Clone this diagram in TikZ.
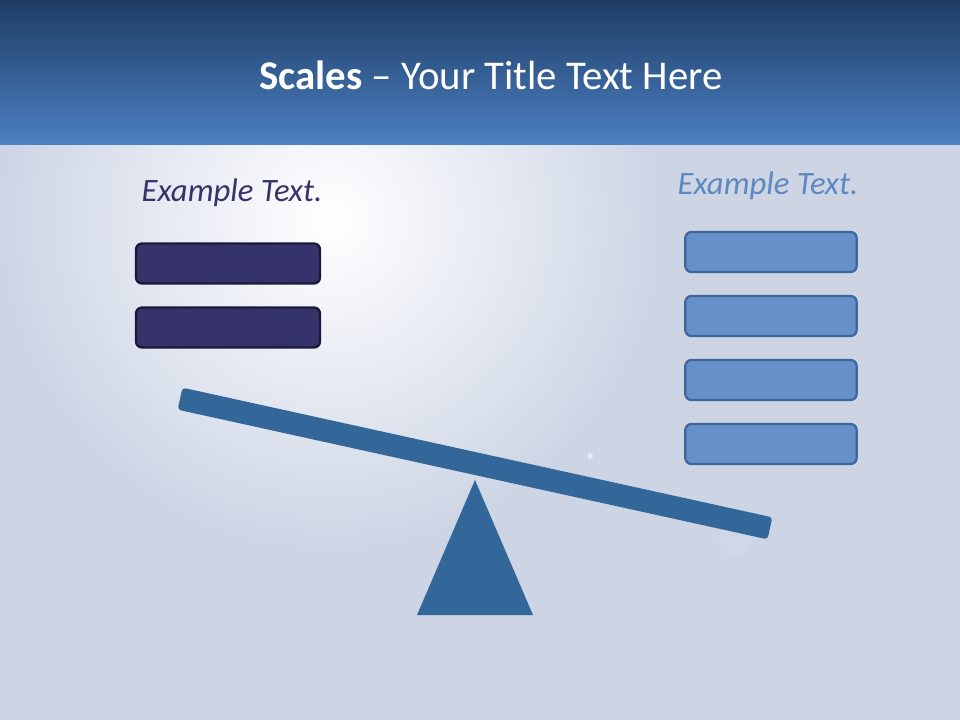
\documentclass[tikz,border=0pt]{standalone}
\usepackage{fontspec}
\setmainfont{Carlito}
\usetikzlibrary{positioning}
\definecolor{bgblue}{HTML}{CDD5E5}
\definecolor{titletop}{HTML}{1F3C64}
\definecolor{titlebot}{HTML}{4B80C2}
\definecolor{darknavy}{HTML}{35336A}
\definecolor{darkedge}{HTML}{1A1A38}
\definecolor{lightblue}{HTML}{6690C8}
\definecolor{lightedge}{HTML}{3F6699}
\definecolor{beamblue}{HTML}{336699}
\definecolor{softtext}{HTML}{5F88C2}

\begin{document}
\begin{tikzpicture}[x=0.75pt,y=-0.75pt,node distance=16.3pt,
  leftbox/.style={draw=darkedge,fill=darknavy,line width=1.7pt,rounded corners=4.5pt,minimum width=138pt,minimum height=30pt},
  rightbox/.style={draw=lightedge,fill=lightblue,line width=1.7pt,rounded corners=4.5pt,minimum width=128.5pt,minimum height=30pt},
  label/.style={font=\itshape\fontsize{24.5}{28}\selectfont}]
\useasboundingbox (0,0) rectangle (960,720);
% background and glare
\fill[bgblue] (0,0) rectangle (960,720);
\begin{scope}
\clip (0,145) rectangle (960,720);
\shade[inner color=white,outer color=bgblue] (330,220) circle (330);
\fill[white,opacity=.5] (590,456) circle (3);
\fill[white,opacity=.08] (735,540) circle (16);
\end{scope}
% title bar
\shade[top color=titletop,bottom color=titlebot] (0,0) rectangle (960,145);
\node[text=white,font=\fontsize{30.6}{36}\selectfont] (title) at (491,75) {\textbf{Scales} -- Your Title Text Here};
% left side
\node[label,text=darknavy] (ltext) at (232,193) {Example Text.};
\node[leftbox] (l1) at (228,263.5) {};
\node[leftbox,below=of l1] (l2) {};
% right side
\node[label,text=softtext] (rtext) at (768,186) {Example Text.};
\node[rightbox] (r1) at (771,252) {};
\node[rightbox,below=of r1] (r2) {};
\node[rightbox,below=of r2] (r3) {};
\node[rightbox,below=of r3] (r4) {};
% beam and pivot
\node[fill=beamblue,rounded corners=2.5pt,minimum width=453pt,minimum height=16.9pt,rotate=-12.4,inner sep=0pt] (beam) at (475,463.5) {};
\coordinate (pivot) at (475,480);
\fill[beamblue] (pivot) -- (533,615) -- (417,615) -- cycle;
\end{tikzpicture}
\end{document}
